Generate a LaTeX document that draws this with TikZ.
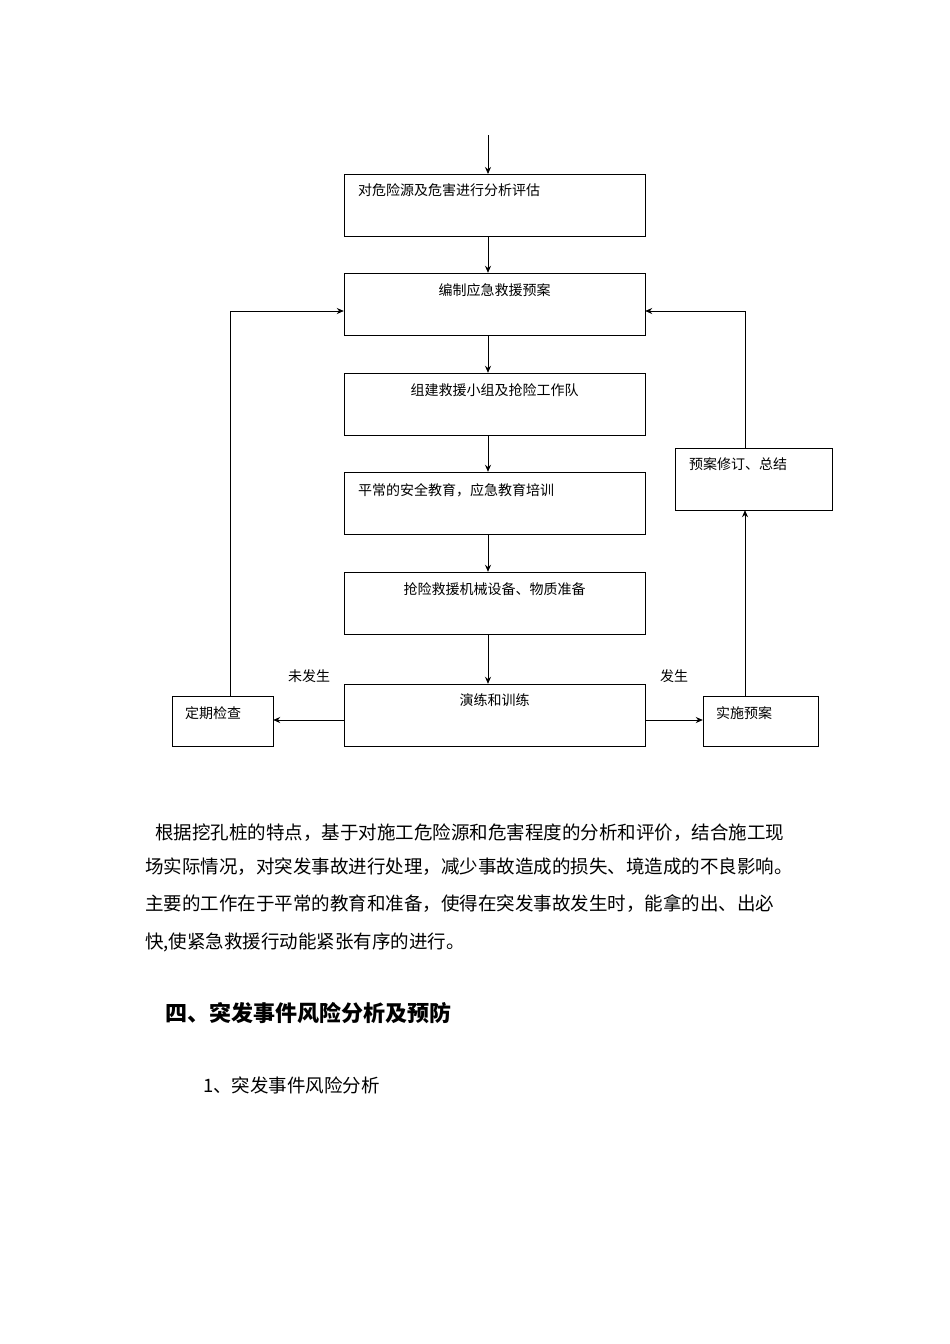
\documentclass[tikz,border=0pt]{standalone}
\usepackage{fontspec}
\newfontfamily\cjk{Noto Sans CJK SC}
\usetikzlibrary{arrows.meta}
\begin{document}
\begin{tikzpicture}[x=1pt,y=-1pt,
  bx/.style={draw,line width=0.8pt,inner sep=0pt},
  lbl/.style={font=\cjk\fontsize{14}{16}\selectfont,inner sep=0pt},
  arr/.style={-{Stealth[length=7pt,width=6pt]},line width=0.8pt},
  ptxt/.style={font=\cjk\fontsize{18.5}{22}\selectfont,inner sep=0pt,anchor=west}]
\path[use as bounding box,fill=white] (0,0) rectangle (950,1344);
\draw[bx] (344,174) rectangle (645,236) coordinate (b1c);
\node[bx,minimum width=301pt,minimum height=62pt,draw=none] (b1) at (494.5,205) {};
\draw[bx] (344,273) rectangle (645,335);
\node[minimum width=301pt,minimum height=62pt] (b2) at (494.5,304) {};
\draw[bx] (344,373) rectangle (645,435);
\node[minimum width=301pt,minimum height=62pt] (b3) at (494.5,404) {};
\draw[bx] (344,472) rectangle (645,534);
\node[minimum width=301pt,minimum height=62pt] (b4) at (494.5,503) {};
\draw[bx] (344,572) rectangle (645,634);
\node[minimum width=301pt,minimum height=62pt] (b5) at (494.5,603) {};
\draw[bx] (344,684) rectangle (645,746);
\node[minimum width=301pt,minimum height=62pt] (b6) at (494.5,715) {};
\draw[bx] (172,696) rectangle (273,746);
\node[minimum width=101pt,minimum height=50pt] (bl) at (222.5,721) {};
\draw[bx] (703,696) rectangle (818,746);
\node[minimum width=115pt,minimum height=50pt] (br) at (760.5,721) {};
\draw[bx] (675,448) rectangle (832,510);
\node[minimum width=157pt,minimum height=62pt] (bt) at (753.5,479) {};
\node[lbl,anchor=west] (t1) at (358,190) {对危险源及危害进行分析评估};
\node[lbl] (t2) at (494.5,290) {编制应急救援预案};
\node[lbl] (t3) at (494.5,390) {组建救援小组及抢险工作队};
\node[lbl,anchor=west] (t4) at (358,490) {平常的安全教育，应急教育培训};
\node[lbl] (t5) at (494.5,589) {抢险救援机械设备、物质准备};
\node[lbl] (t6) at (494.5,700) {演练和训练};
\node[lbl,anchor=west] (tl) at (185,713) {定期检查};
\node[lbl,anchor=west] (tr) at (716,713) {实施预案};
\node[lbl,anchor=west] (tt) at (689,464) {预案修订、总结};
\node[lbl] (n1) at (309,676) {未发生};
\node[lbl] (n2) at (674,676) {发生};
\coordinate (top) at (488,135);
\draw[arr] (top) -- (488,174);
\draw[arr] (488,236) -- (b2.north -| 488,0);
\draw[arr] (b2.south -| 488,0) -- (b3.north -| 488,0);
\draw[arr] (b3.south -| 488,0) -- (b4.north -| 488,0);
\draw[arr] (b4.south -| 488,0) -- (b5.north -| 488,0);
\draw[arr] (b5.south -| 488,0) -- (b6.north -| 488,0);
\draw[arr] (b6.west |- 0,720) -- (bl.east |- 0,720);
\draw[arr] (b6.east |- 0,720) -- (br.west |- 0,720);
\draw[arr] (bl.north -| 230,0) -- (230,311) -- (b2.west |- 0,311);
\draw[arr] (br.north -| 745,0) -- (bt.south -| 745,0);
\draw[arr] (bt.north -| 745,0) -- (745,311) -- (b2.east |- 0,311);
\node[ptxt] (p1) at (155,833) {根据挖孔桩的特点，基于对施工危险源和危害程度的分析和评价，结合施工现};
\node[ptxt] (p2) at (145,867) {场实际情况，对突发事故进行处理，减少事故造成的损失、境造成的不良影响。};
\node[ptxt] (p3) at (145,904) {主要的工作在于平常的教育和准备，使得在突发事故发生时，能拿的出、出必};
\node[ptxt] (p4) at (145,942) {快,使紧急救援行动能紧张有序的进行。};
\node[ptxt,font=\cjk\bfseries\fontsize{22}{26}\selectfont] (h) at (165,1013) {四、突发事件风险分析及预防};
\node[ptxt] (s) at (203,1085) {1、突发事件风险分析};
\end{tikzpicture}
\end{document}
